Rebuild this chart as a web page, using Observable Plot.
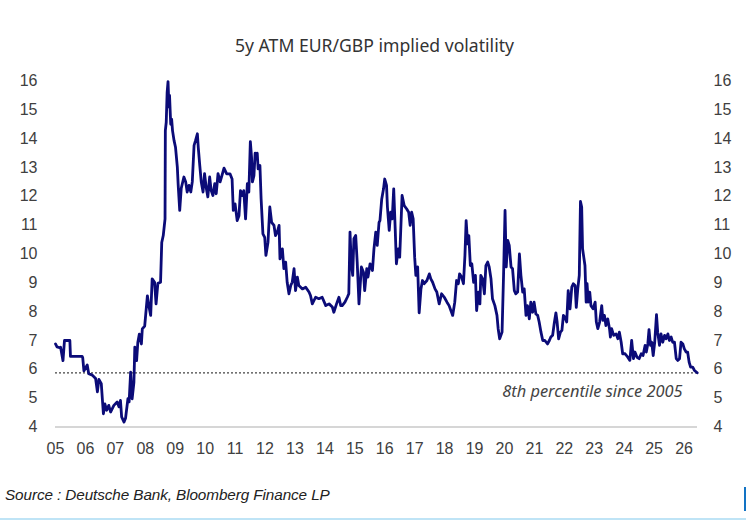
<!DOCTYPE html>
<html>
<head>
<meta charset="utf-8">
<script src="https://cdn.jsdelivr.net/npm/d3@7"></script>
<script src="https://cdn.jsdelivr.net/npm/@observablehq/plot@0.6"></script>
<style>
  html, body { margin: 0; padding: 0; background: #fff; }
  #wrap { position: relative; width: 749px; height: 521px; overflow: hidden; }
  #title { position: absolute; left: 0; top: 34px; width: 749px; text-align: center;
           font-family: "Noto Sans", "Open Sans", sans-serif; font-size: 17.6px; color: #333; line-height: 22px; }
  #source { position: absolute; left: 5px; top: 486px; font-family: "Liberation Sans Narrow", "Arial Narrow", "Liberation Sans", sans-serif;
            font-style: italic; font-size: 15.3px; color: #222; line-height: 18px; letter-spacing: -0.1px; }
  #vbar { position: absolute; left: 744px; top: 487px; width: 2px; height: 24px; background: #1273c4; }
  #hbar { position: absolute; left: 0; top: 518px; width: 746px; height: 2px; background: #bfe4f6; }
</style>
</head>
<body>
<div id="wrap">
  <div id="chart"></div>
  <div id="title">5y ATM EUR/GBP implied volatility</div>
  <div id="source">Source : Deutsche Bank, Bloomberg Finance LP</div>
  <div id="vbar"></div>
  <div id="hbar"></div>
</div>
<script>
// decimal-year time stamps
const years = [
2005.00,2005.05,2005.14,2005.17,2005.25,2005.30,2005.48,2005.50,2005.89,2005.91,
2005.95,2006.06,2006.11,2006.23,2006.34,2006.40,2006.45,2006.53,2006.60,2006.65,
2006.71,2006.78,2006.84,2006.95,2007.06,2007.12,2007.17,2007.21,2007.29,2007.34,
2007.42,2007.46,2007.51,2007.56,2007.62,2007.65,2007.71,2007.75,2007.80,2007.87,
2007.90,2007.98,2008.07,2008.12,2008.18,2008.23,2008.31,2008.36,2008.42,2008.51,
2008.55,2008.60,2008.66,2008.67,2008.70,2008.73,2008.76,2008.79,2008.81,2008.85,
2008.88,2008.91,2008.96,2009.01,2009.07,2009.10,2009.15,2009.20,2009.29,2009.35,
2009.40,2009.46,2009.52,2009.57,2009.63,2009.68,2009.74,2009.77,2009.82,2009.87,
2009.93,2009.98,2010.04,2010.09,2010.15,2010.20,2010.26,2010.32,2010.37,2010.43,
2010.50,2010.56,2010.63,2010.72,2010.83,2010.90,2010.94,2011.00,2011.07,2011.13,
2011.18,2011.24,2011.29,2011.35,2011.41,2011.46,2011.51,2011.55,2011.58,2011.63,
2011.67,2011.71,2011.74,2011.77,2011.83,2011.87,2011.93,2011.99,2012.03,2012.10,
2012.16,2012.22,2012.30,2012.35,2012.41,2012.47,2012.50,2012.58,2012.63,2012.69,
2012.74,2012.80,2012.86,2012.91,2012.97,2013.02,2013.08,2013.13,2013.25,2013.36,
2013.47,2013.52,2013.58,2013.69,2013.80,2013.91,2014.03,2014.14,2014.25,2014.30,
2014.39,2014.47,2014.53,2014.58,2014.67,2014.75,2014.80,2014.84,2014.88,2014.93,
2014.97,2015.03,2015.08,2015.14,2015.22,2015.29,2015.33,2015.40,2015.44,2015.51,
2015.59,2015.64,2015.70,2015.75,2015.81,2015.84,2015.90,2015.96,2016.00,2016.06,
2016.09,2016.15,2016.20,2016.25,2016.30,2016.35,2016.39,2016.45,2016.50,2016.58,
2016.65,2016.73,2016.80,2016.85,2016.90,2016.95,2017.00,2017.04,2017.10,2017.15,
2017.21,2017.26,2017.32,2017.41,2017.49,2017.54,2017.60,2017.68,2017.74,2017.82,
2017.90,2017.99,2018.08,2018.15,2018.27,2018.34,2018.40,2018.46,2018.50,2018.57,
2018.63,2018.68,2018.72,2018.77,2018.81,2018.86,2018.91,2018.97,2019.03,2019.07,
2019.13,2019.18,2019.21,2019.27,2019.33,2019.38,2019.44,2019.49,2019.55,2019.60,
2019.68,2019.75,2019.79,2019.84,2019.92,2019.97,2020.02,2020.06,2020.11,2020.16,
2020.22,2020.27,2020.33,2020.38,2020.44,2020.50,2020.55,2020.61,2020.66,2020.72,
2020.77,2020.83,2020.88,2020.94,2020.99,2021.05,2021.11,2021.16,2021.22,2021.28,
2021.35,2021.44,2021.50,2021.55,2021.61,2021.67,2021.72,2021.76,2021.81,2021.87,
2021.92,2021.97,2022.02,2022.08,2022.13,2022.19,2022.25,2022.30,2022.36,2022.40,
2022.45,2022.50,2022.54,2022.58,2022.61,2022.65,2022.69,2022.73,2022.76,2022.80,
2022.85,2022.89,2022.96,2023.03,2023.07,2023.12,2023.18,2023.25,2023.29,2023.34,
2023.39,2023.45,2023.51,2023.54,2023.58,2023.65,2023.73,2023.79,2023.84,2023.90,
2023.95,2024.03,2024.12,2024.19,2024.25,2024.31,2024.36,2024.43,2024.50,2024.57,
2024.63,2024.70,2024.74,2024.79,2024.83,2024.88,2024.92,2024.97,2025.02,2025.08,
2025.12,2025.18,2025.23,2025.29,2025.35,2025.40,2025.46,2025.51,2025.57,2025.62,
2025.68,2025.74,2025.79,2025.85,2025.90,2025.96,2026.01,2026.07,2026.12,2026.17,
2026.22,2026.29,2026.35,2026.44
];
const vols = [
6.88,6.78,6.75,6.77,6.30,7.00,7.00,6.45,6.45,6.40,
5.95,6.15,5.85,5.80,5.68,5.22,5.65,5.50,4.46,4.80,
4.58,4.75,4.52,4.75,4.87,4.70,4.92,4.35,4.17,4.30,
4.98,4.87,5.90,4.98,5.55,6.77,6.30,6.93,7.22,6.88,
7.40,7.50,8.55,8.20,7.87,9.14,9.02,8.27,8.98,9.02,
10.40,10.64,11.22,14.28,14.57,15.61,15.98,15.10,15.50,14.50,
14.68,14.28,13.94,13.70,13.02,12.38,11.51,12.27,12.67,12.50,
12.15,12.38,12.15,12.50,13.77,13.94,14.17,13.70,13.07,12.50,
12.15,12.79,12.27,11.98,12.67,12.21,12.03,12.44,12.09,12.79,
12.50,12.72,12.98,12.78,12.78,12.60,11.51,11.74,11.16,11.33,
12.20,12.03,12.20,11.22,12.44,12.15,13.90,13.36,12.50,12.72,
13.50,13.30,13.50,12.95,13.07,11.91,10.70,10.58,9.95,10.41,
11.63,11.10,10.99,10.64,10.76,10.99,9.83,10.18,9.49,9.72,
9.02,8.62,8.91,9.02,9.49,8.73,9.20,8.91,8.79,8.85,
8.68,8.56,8.27,8.50,8.45,8.50,8.21,8.27,8.16,7.98,
8.27,8.50,8.21,8.21,8.33,8.50,8.62,10.76,9.72,9.26,
10.53,10.64,9.72,8.27,9.55,9.37,8.73,9.49,9.20,9.66,
9.43,10.18,10.76,10.30,11.10,11.16,11.91,12.26,12.60,12.38,
11.63,10.82,11.45,11.22,12.26,10.87,9.66,10.18,9.89,12.03,
11.68,11.57,11.45,10.99,11.45,11.22,9.89,9.26,9.55,7.96,
8.79,9.08,8.97,9.08,9.31,9.14,9.02,8.79,8.68,8.27,
8.62,8.50,8.33,8.21,7.87,8.33,9.08,8.97,9.31,9.20,
8.97,9.95,11.16,10.35,10.64,9.60,9.66,9.02,9.26,8.04,
8.68,8.27,9.26,9.14,8.62,9.60,9.72,9.55,9.14,8.45,
8.21,7.87,7.41,7.06,7.29,9.26,11.51,9.55,10.47,10.30,
9.55,9.49,8.73,8.62,8.68,10.00,9.26,8.68,8.79,7.87,
8.21,7.75,8.33,7.98,8.33,7.92,7.87,7.64,7.29,7.00,
7.00,6.88,7.00,7.12,7.18,7.64,7.96,7.64,7.06,7.29,
7.35,7.87,7.81,7.64,8.73,8.10,8.85,8.97,8.91,8.15,
8.79,9.26,11.82,11.63,10.18,9.89,9.60,8.33,8.97,8.33,
8.68,8.21,8.10,8.33,7.64,7.41,7.64,8.21,7.70,7.87,
7.52,7.75,7.41,7.12,7.41,7.18,7.23,7.06,7.29,6.94,
6.54,6.54,6.42,6.31,7.00,6.37,6.60,6.42,6.37,6.54,
6.48,6.83,6.60,6.88,7.38,6.83,6.94,6.48,6.94,7.90,
7.29,6.83,7.23,6.94,7.18,7.06,7.23,7.00,7.12,6.94,
6.94,6.37,6.31,6.37,6.94,6.88,6.71,6.60,6.60,6.25,
6.08,6.08,5.96,5.88
];
const yTicks = [4,5,6,7,8,9,10,11,12,13,14,15,16];
const xTicks = [2005,2006,2007,2008,2009,2010,2011,2012,2013,2014,2015,2016,2017,2018,2019,2020,2021,2022,2023,2024,2025,2026];
const threshold = 5.88;
const annotationText = "8th percentile since 2005";
const annotationPos = {x: 2025.95, y: 5.22};

const data = years.map((t, i) => ({t, v: vols[i]}));

const chart = Plot.plot({
  width: 749,
  height: 521,
  marginLeft: 55,
  marginRight: 52,
  marginTop: 80.5,
  marginBottom: 94.5,
  x: {domain: [2005, 2026.45], axis: null},
  y: {domain: [4, 16], axis: null},
  style: {fontFamily: "'Liberation Sans', Arial, sans-serif", fontSize: "16px", color: "#404040", background: "transparent"},
  marks: [
    Plot.axisY(yTicks, {anchor: "left", tickSize: 0, tickPadding: 18, label: null, fontSize: 16}),
    Plot.axisY(yTicks, {anchor: "right", tickSize: 0, tickPadding: 16, label: null, fontSize: 16}),
    Plot.axisX(xTicks, {anchor: "bottom", tickSize: 0, tickPadding: 16, label: null, fontSize: 16,
      tickFormat: d => String(d % 100).padStart(2, "0")}),
    Plot.ruleY([4], {stroke: "#c8c8c8", strokeWidth: 1.5}),
    Plot.ruleY([threshold], {stroke: "#444", strokeWidth: 1.2, strokeDasharray: "2,2"}),
    Plot.line(data, {x: "t", y: "v", stroke: "#0b0b78", strokeWidth: 2.8, strokeLinejoin: "round"}),
    Plot.text([annotationPos], {x: "x", y: "y", text: () => annotationText, textAnchor: "end",
      fontFamily: "'Noto Sans', 'Open Sans', sans-serif", fontStyle: "italic", fontSize: 16.4, fill: "#444"})
  ]
});
document.getElementById("chart").appendChild(chart);
</script>
</body>
</html>
